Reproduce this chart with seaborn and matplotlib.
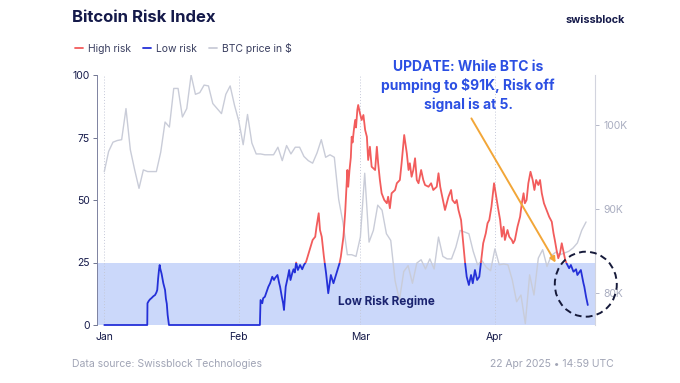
import numpy as np
import pandas as pd
import matplotlib
matplotlib.use("Agg")
import matplotlib.pyplot as plt
import matplotlib.transforms as mtransforms
from matplotlib.patches import Rectangle, Ellipse
from matplotlib.lines import Line2D
import seaborn as sns

# BTC price, daily, in thousands of $ (Jan 1 .. Apr 22, 2025)
price_k = [94.5, 96.9, 98.0, 98.2, 98.3, 102.0, 97.1, 94.7, 92.5, 94.7,
           94.5, 94.5, 94.5, 96.8, 100.4, 99.8, 104.4, 104.4, 101.0, 102.0,
           106.0, 103.7, 103.9, 104.8, 104.7, 102.6, 102.0, 101.4, 103.7, 104.7,
           102.4, 100.5, 97.7, 101.3, 97.9, 96.6, 96.6, 96.5, 96.5, 96.5,
           97.4, 95.8, 97.6, 96.6, 97.4, 97.4, 96.3, 95.8, 95.5, 96.7,
           98.3, 96.2, 96.5, 96.2, 91.2, 88.4, 84.6, 84.6, 84.4, 86.7,
           94.3, 86.1, 87.5, 90.5, 89.9, 87.1, 86.3, 81.5, 79.2, 82.6,
           83.3, 81.2, 83.6, 84.0, 82.9, 84.1, 82.9, 86.7, 84.4, 84.1,
           84.1, 85.5, 87.5, 87.3, 87.1, 85.0, 83.4, 83.9, 83.1, 82.7,
           85.3, 83.4, 83.5, 83.4, 81.6, 79.0, 79.8, 76.4, 82.2, 79.8,
           84.2, 85.2, 83.2, 84.5, 84.9, 84.6, 84.8, 85.0, 85.4, 86.0,
           87.5, 88.5]

# Risk index readings: day offset from Jan 1 and value
risk_day = [0.0, 9.9, 9.95, 10.2, 10.5, 10.9, 11.3, 11.7, 12.0, 12.2,
            12.4, 12.6, 12.76, 12.9, 13.2, 13.6, 14.0, 14.2, 14.4, 14.6,
            14.9, 35.85,
            36.0, 36.4, 36.6, 37.0, 37.4, 37.8, 38.2, 38.7, 39.1, 39.3,
            39.9, 40.3, 40.5, 40.9, 41.2, 41.4, 41.8, 42.3, 42.6, 42.9,
            43.3, 43.6, 43.9, 44.2, 44.6, 45.1, 45.6, 46.0, 46.5, 47.2,
            48.0, 48.6, 48.9, 49.4, 49.7, 50.1, 50.6, 51.1, 51.6, 52.2,
            52.8, 53.5, 54.2, 54.5, 55.1, 55.5, 55.8, 56.0, 56.2, 56.5,
            56.8, 57.0, 57.2, 57.5, 57.8, 58.0, 58.3, 58.5, 58.9, 59.3,
            59.7, 60.1, 60.5, 60.8, 61.2, 61.6, 62.4, 62.8, 63.1, 63.5,
            63.9, 64.5, 65.1, 65.4, 65.8, 66.2, 67.0, 67.4, 68.1, 68.5,
            69.1, 69.7, 70.1, 70.4, 70.8, 71.2, 71.6, 72.0, 72.4, 73.0,
            73.5, 73.9, 74.7, 75.3, 75.8, 76.6, 77.0, 77.4, 77.7, 78.5,
            78.9, 79.3, 79.9, 80.2, 80.8, 81.2, 81.6, 82.2, 82.7, 83.1,
            83.5, 84.0, 84.5, 84.9, 85.4, 85.9, 86.4, 86.8, 87.3, 87.9,
            88.3, 88.7, 89.2, 89.8, 90.3, 90.8, 91.2, 91.6, 92.0, 92.3,
            92.9, 93.3, 93.9, 94.2, 94.6, 95.2, 95.8, 96.2, 96.6, 96.9,
            97.3, 97.7, 98.2, 98.7, 99.1, 99.5, 100.0, 100.4, 100.8, 101.3,
            101.9, 102.5, 103.1, 103.5, 103.8, 104.2, 104.6, 105.0, 105.4, 105.8,
            106.2, 106.5, 107.1, 107.5, 108.1, 108.7, 109.0, 109.5, 109.8, 110.4,
            110.6, 111.0, 111.4]
risk_val = [0, 0, 8.7, 9.5, 10.2, 10.8, 11.5, 12.0, 13.0, 14.0,
            18.5, 22.0, 24.0, 22.5, 20.5, 16.7, 14.0, 10.5, 8.5, 4.0,
            0, 0,
            10.0, 8.7, 10.7, 11.3, 13.3, 15.3, 16.7, 19.3, 18.0, 18.7,
            20.0, 16.7, 15.3, 11.3, 8.7, 6.0, 15.3, 19.3, 22.0, 18.0,
            20.7, 22.3, 21.0, 25.0, 22.0, 24.0, 22.3, 24.0, 25.3, 29.3,
            34.0, 35.3, 39.3, 44.7, 38.0, 35.3, 27.3, 20.7, 12.7, 20.0,
            16.7, 20.7, 24.7, 27.3, 35.3, 45.0, 55.0, 62.0, 55.3, 62.0,
            67.0, 75.3, 73.0, 78.0, 82.0, 79.0, 86.0, 88.0, 84.7, 82.0,
            84.0, 78.0, 75.3, 66.0, 71.3, 63.3, 62.0, 71.3, 64.7, 58.0,
            52.7, 50.0, 48.7, 51.3, 46.7, 52.7, 54.0, 56.7, 58.0, 64.7,
            76.0, 68.7, 62.0, 64.7, 59.3, 62.0, 66.7, 58.0, 56.7, 62.0,
            58.0, 56.0, 55.3, 56.7, 54.0, 55.3, 60.7, 55.3, 52.7, 46.0,
            48.7, 51.3, 54.0, 50.0, 48.7, 50.0, 46.0, 42.0, 32.7, 25.3,
            19.3, 16.0, 20.0, 16.7, 22.0, 18.0, 19.3, 25.3, 32.7, 36.7,
            40.7, 42.0, 47.3, 56.7, 51.3, 46.0, 42.0, 35.3, 39.3, 34.0,
            38.0, 35.3, 34.0, 32.7, 34.0, 39.3, 43.3, 48.7, 52.7, 48.7,
            50.0, 56.7, 61.3, 58.0, 54.0, 58.0, 56.0, 58.0, 52.7, 48.7,
            46.0, 43.3, 41.3, 36.7, 34.0, 30.0, 26.7, 28.7, 32.7, 29.3,
            26.0, 24.7, 22.7, 24.0, 21.3, 22.3, 20.0, 21.3, 22.0, 16.7,
            15.3, 11.3, 8.0]

threshold = 25
month_labels = ["Jan", "Feb", "Mar", "Apr"]

start = pd.Timestamp("2025-01-01")
price_df = pd.DataFrame({
    "date": start + pd.to_timedelta(np.arange(len(price_k)), unit="D"),
    "price": np.array(price_k) * 1000,
})
risk_df = pd.DataFrame({
    "date": start + pd.to_timedelta(risk_day, unit="D"),
    "risk": risk_val,
})

NAVY = "#151a4a"
RED = "#f25c5c"
BLUE = "#2430d8"
GREY = "#c9ccd8"
SHADE = "#cbd8fa"

sns.set_theme(style="white")
plt.rcParams["font.family"] = ["Inter", "DejaVu Sans"]

fig = plt.figure(figsize=(6.8, 3.83), dpi=100)
ax = fig.add_axes([97 / 680, 1 - 325 / 383, 498 / 680, 250 / 383])
ax2 = ax.twinx()
ax.set_zorder(ax2.get_zorder() + 1)
ax.patch.set_visible(False)

x0 = start - pd.Timedelta(days=1.68)
x1 = start + pd.Timedelta(days=113.06)

# low risk regime band (under the price line, in the back axes)
band = Rectangle((0, 0), 1, threshold / 100, transform=ax2.transAxes,
                 color=SHADE, lw=0, zorder=0)
ax2.add_patch(band)

# BTC price on the right axis
sns.lineplot(data=price_df, x="date", y="price", ax=ax2, color=GREY, lw=1.0, zorder=2)
ax2.set_ylim(76230, 106000)
ax2.set_yticks([80000, 90000, 100000])
ax2.set_yticklabels(["80K", "90K", "100K"])
ax2.set_ylabel("")
ax2.tick_params(axis="y", length=3, width=0.6, colors="#a9adc0", labelsize=7.5, pad=3)

# risk line: red above threshold, blue below
sns.lineplot(data=risk_df, x="date", y="risk", ax=ax, color=RED, lw=1.3)
sns.lineplot(data=risk_df, x="date", y="risk", ax=ax, color=BLUE, lw=1.3)
blend = mtransforms.blended_transform_factory(ax.transAxes, ax.transData)
hi_clip = Rectangle((0, threshold), 1, 200, transform=blend)
lo_clip = Rectangle((0, -50), 1, threshold + 50, transform=blend)
ax.lines[0].set_clip_path(hi_clip)
ax.lines[1].set_clip_path(lo_clip)

ax.set_ylim(0, 100)
ax.set_xlim(x0, x1)
ax2.set_xlim(x0, x1)
ax.set_yticks([0, 25, 50, 75, 100])
ax.set_xlabel("")
ax.set_ylabel("")
ax.set_xticks([start + pd.DateOffset(months=i) for i in range(4)])
ax.set_xticklabels(month_labels)
ax.tick_params(axis="y", length=3, width=0.6, colors="#5a5f80", labelsize=7.5, pad=2)
ax.tick_params(axis="y", labelcolor=NAVY)
ax.tick_params(axis="x", length=0, labelsize=7.5, labelcolor=NAVY, pad=5)
for m in range(4):
    ax2.axvline(start + pd.DateOffset(months=m), color="#c4c8d8", lw=0.7, ls=(0, (1, 2)), zorder=1)

for a in (ax, ax2):
    for s in a.spines.values():
        s.set_visible(False)
ax.spines["left"].set_visible(True)
ax.spines["left"].set_color("#7d82a0")
ax.spines["left"].set_linewidth(0.7)
ax2.spines["right"].set_visible(True)
ax2.spines["right"].set_color("#d2d4de")
ax2.spines["right"].set_linewidth(0.8)

ax.text(start + pd.Timedelta(days=65), 9.5, "Low Risk Regime", ha="center", va="center",
        fontsize=8.5, fontweight="bold", color="#1b2470")

# annotation
fig.text(468 / 680, 1 - 86 / 383, "UPDATE: While BTC is\npumping to $91K, Risk off\nsignal is at 5.",
         ha="center", va="center", fontsize=10, fontweight="bold", color="#2b4fe3", linespacing=1.35)
ax.annotate("", xy=(557 / 680, 1 - 265 / 383), xytext=(470 / 680, 1 - 116 / 383),
            xycoords="figure fraction", textcoords="figure fraction",
            arrowprops=dict(arrowstyle="-|>", color="#f2a638", lw=1.4, mutation_scale=8))
fig.add_artist(Ellipse((585.8 / 680, 1 - 284.2 / 383), 62 / 680, 65 / 383, zorder=10,
                       transform=fig.transFigure, fill=False, ec="#161a3a", lw=1.4, ls=(0, (3.5, 2.2))))

# header and footer
fig.text(72 / 680, 1 - 18 / 383, "Bitcoin Risk Index", ha="left", va="center",
         fontsize=12, fontweight="bold", color=NAVY)
fig.text(625 / 680, 1 - 20 / 383, "swissblock", ha="right", va="center",
         fontsize=7.8, fontweight="bold", color=NAVY)
handles = [Line2D([], [], color=RED, lw=1.3), Line2D([], [], color=BLUE, lw=1.3),
           Line2D([], [], color=GREY, lw=1.3)]
fig.legend(handles, ["High risk", "Low risk", "BTC price in $"], loc="center left",
           bbox_to_anchor=(66 / 680, 1 - 48 / 383), ncol=3, frameon=False, fontsize=7.5,
           handlelength=0.7, handletextpad=0.5, columnspacing=1.2, labelcolor="#3a3f60")
fig.text(72 / 680, 1 - 364 / 383, "Data source: Swissblock Technologies", ha="left", va="center",
         fontsize=7.5, color="#a0a4b5")
fig.text(614 / 680, 1 - 364 / 383, "22 Apr 2025 \u2022 14:59 UTC", ha="right", va="center",
         fontsize=7.5, color="#a0a4b5")

fig.savefig("out.png", dpi=100)
